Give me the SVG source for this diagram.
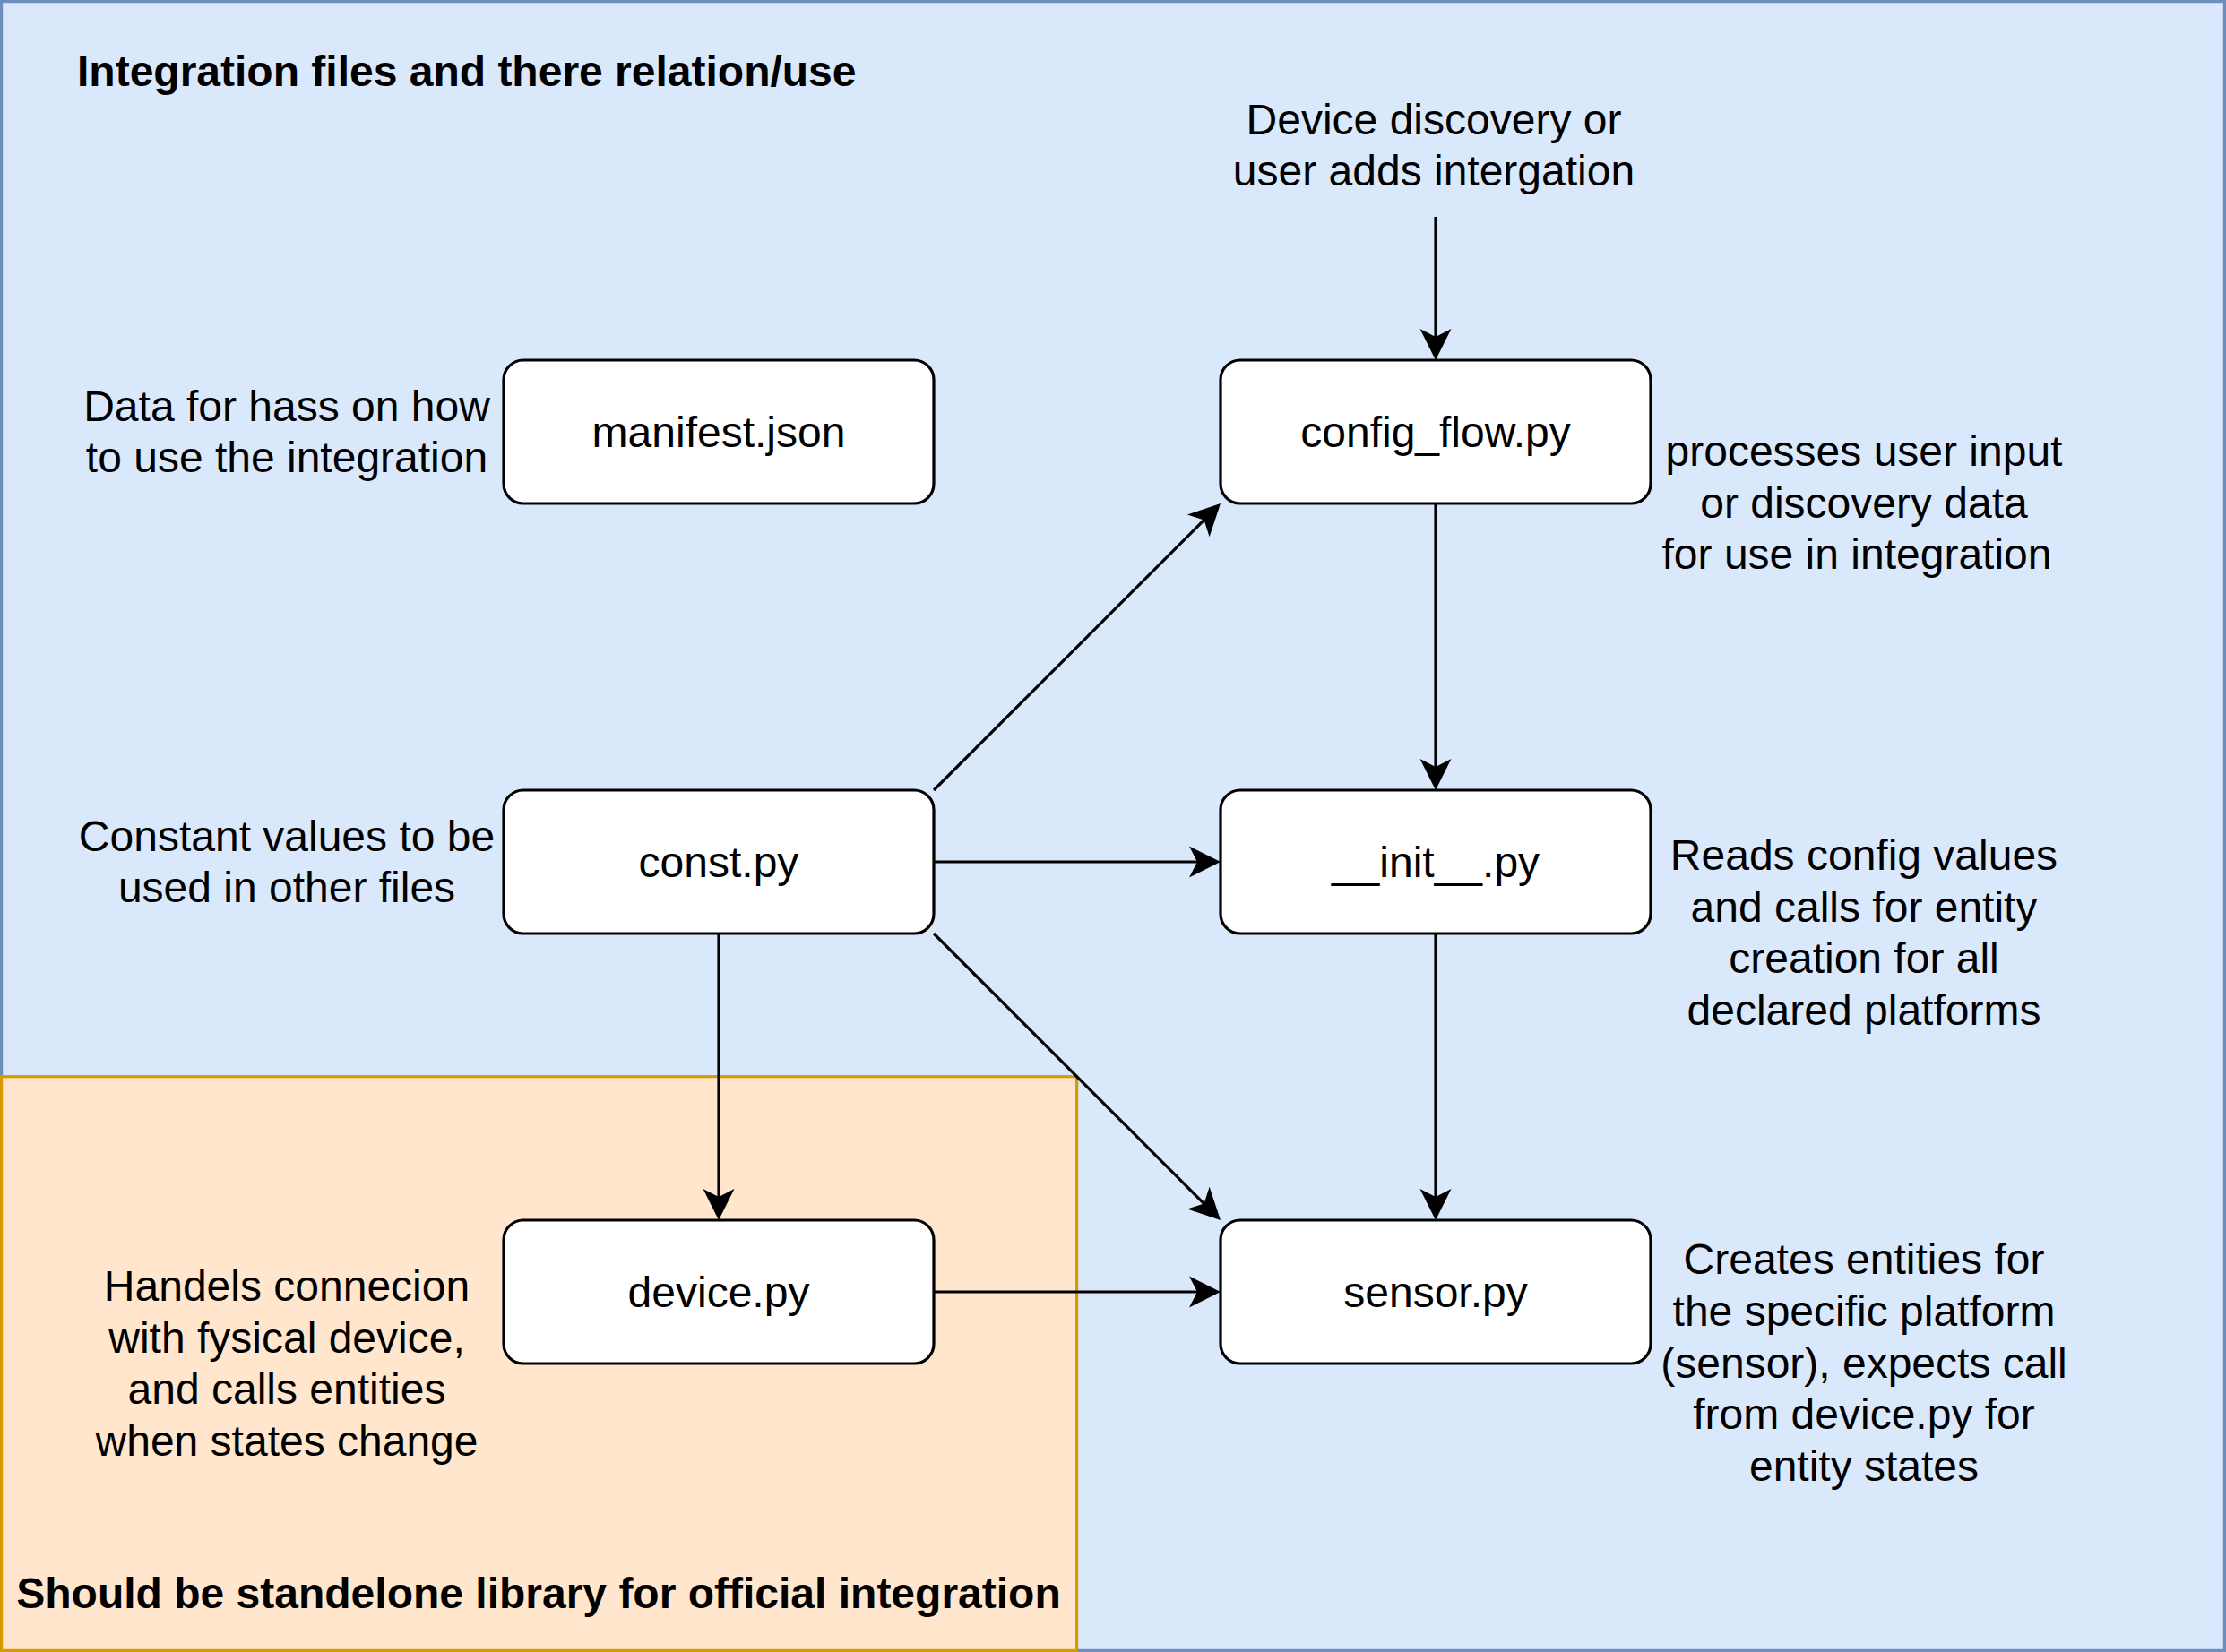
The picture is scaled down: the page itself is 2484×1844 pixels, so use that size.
<svg xmlns="http://www.w3.org/2000/svg" width="2484" height="1844" viewBox="0 0 2484 1844">
<defs>
<style>
.t{font-family:"Liberation Sans",Arial,Helvetica,sans-serif;font-size:48px;fill:#000;}
.m{text-anchor:middle;}
.b{font-weight:bold;}
.node{fill:#fff;stroke:#000;stroke-width:3.2;}
.edge{fill:none;stroke:#000;stroke-width:3.2;}
</style>
<marker id="arr" markerUnits="userSpaceOnUse" viewBox="-10 -18 37 36" markerWidth="37" markerHeight="36" refX="0" refY="0" orient="auto" overflow="visible">
<path d="M26,0 L-9,-17.5 L0,0 L-9,17.5 Z" fill="#000"/>
</marker>
</defs>
<g id="background">
<rect x="1.6" y="1.6" width="2480.8" height="1840.8" fill="#dae8fc" stroke="#6c8ebf" stroke-width="3.2"/>
<rect x="1.6" y="1201.7" width="1200" height="640.7" fill="#ffe6cc" stroke="#d79b00" stroke-width="3.2"/>
</g>
<g id="title"><text class="t b" x="86" y="96">Integration files and there relation/use</text></g>
<g id="library-label"><text class="t b m" x="601" y="1795">Should be standelone library for official integration</text></g>
<g id="edges">
<line class="edge" x1="1602" y1="242" x2="1602" y2="376" marker-end="url(#arr)"/>
<line class="edge" x1="1602" y1="562" x2="1602" y2="856" marker-end="url(#arr)"/>
<line class="edge" x1="1602" y1="1042" x2="1602" y2="1336" marker-end="url(#arr)"/>
<line class="edge" x1="1042" y1="962" x2="1336" y2="962" marker-end="url(#arr)"/>
<line class="edge" x1="1042" y1="882" x2="1343.6" y2="580.4" marker-end="url(#arr)"/>
<line class="edge" x1="1042" y1="1042" x2="1343.6" y2="1343.6" marker-end="url(#arr)"/>
<line class="edge" x1="802" y1="1042" x2="802" y2="1336" marker-end="url(#arr)"/>
<line class="edge" x1="1042" y1="1442" x2="1336" y2="1442" marker-end="url(#arr)"/>
</g>
<g id="manifest"><rect class="node" x="562" y="402" width="480" height="160" rx="22"/><text class="t m" x="802" y="498.6">manifest.json</text></g>
<g id="config_flow"><rect class="node" x="1362" y="402" width="480" height="160" rx="22"/><text class="t m" x="1602" y="498.6">config_flow.py</text></g>
<g id="const"><rect class="node" x="562" y="882" width="480" height="160" rx="22"/><text class="t m" x="802" y="978.6">const.py</text></g>
<g id="init"><rect class="node" x="1362" y="882" width="480" height="160" rx="22"/><text class="t m" x="1602" y="978.6">__init__.py</text></g>
<g id="device"><rect class="node" x="562" y="1362" width="480" height="160" rx="22"/><text class="t m" x="802" y="1458.6">device.py</text></g>
<g id="sensor"><rect class="node" x="1362" y="1362" width="480" height="160" rx="22"/><text class="t m" x="1602" y="1458.6">sensor.py</text></g>
<g id="manifest-note"><text class="t m" x="320" y="469.8">Data for hass on how</text><text class="t m" x="320" y="527.4">to use the integration</text></g>
<g id="const-note"><text class="t m" x="320" y="949.8">Constant values to be</text><text class="t m" x="320" y="1007.4">used in other files</text></g>
<g id="device-note"><text class="t m" x="320" y="1452.2">Handels connecion</text><text class="t m" x="320" y="1509.8">with fysical device,</text><text class="t m" x="320" y="1567.4">and calls entities</text><text class="t m" x="320" y="1625">when states change</text></g>
<g id="discovery-note"><text class="t m" x="1600" y="149.8">Device discovery or</text><text class="t m" x="1600" y="207.4">user adds intergation</text></g>
<g id="config-note"><text class="t m" x="2080" y="520">processes user input</text><text class="t m" x="2080" y="577.6">or discovery data</text><text class="t m" x="2072" y="635.2">for use in integration</text></g>
<g id="init-note"><text class="t m" x="2080" y="971.2">Reads config values</text><text class="t m" x="2080" y="1028.8">and calls for entity</text><text class="t m" x="2080" y="1086.4">creation for all</text><text class="t m" x="2080" y="1144">declared platforms</text></g>
<g id="sensor-note"><text class="t m" x="2080" y="1422.4">Creates entities for</text><text class="t m" x="2080" y="1480">the specific platform</text><text class="t m" x="2080" y="1537.6">(sensor), expects call</text><text class="t m" x="2080" y="1595.2">from device.py for</text><text class="t m" x="2080" y="1652.8">entity states</text></g>
</svg>
